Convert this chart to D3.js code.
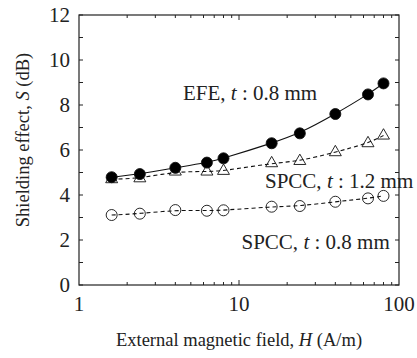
<!DOCTYPE html>
<html>
<head>
<meta charset="utf-8">
<script src="https://cdnjs.cloudflare.com/ajax/libs/d3/7.8.5/d3.min.js"></script>
<style>
  body { margin: 0; background: #fff; }
  text { font-family: "Liberation Serif", "Times New Roman", serif; fill: #222; }
</style>
</head>
<body>
<div id="chart"></div>
<script>

// Data
var fieldH = [1.6, 2.4, 4, 6.3, 8, 16, 24, 40, 64, 80];
var efe08 = [4.79, 4.93, 5.21, 5.44, 5.63, 6.30, 6.74, 7.60, 8.47, 8.96];
var spcc12 = [4.70, 4.74, 5.04, 5.04, 5.07, 5.41, 5.51, 5.90, 6.30, 6.64];
var spcc08 = [3.11, 3.17, 3.33, 3.30, 3.32, 3.48, 3.51, 3.70, 3.85, 3.96];
var yTicks = [0, 2, 4, 6, 8, 10, 12];
var xTicks = [1, 10, 100];

var margin = { top: 15, right: 18, bottom: 73, left: 79 };
var width = 417 - margin.left - margin.right;
var height = 358 - margin.top - margin.bottom;

var svg = d3.select("#chart").append("svg")
    .attr("width", width + margin.left + margin.right)
    .attr("height", height + margin.top + margin.bottom)
  .append("g")
    .attr("transform", "translate(" + margin.left + "," + margin.top + ")");

var x = d3.scaleLog().domain([1, 100]).range([0, width]);
var y = d3.scaleLinear().domain([0, 12]).range([height, 0]);

// minor log ticks (2..9, 20..90)
var minorX = [];
[1, 10].forEach(function(dec){
  for (var k = 2; k <= 9; k++) minorX.push(dec * k);
});
var minorY = d3.range(0, 13);

// frame
svg.append("rect")
  .attr("width", width)
  .attr("height", height)
  .style("fill", "none")
  .style("stroke", "#222")
  .style("stroke-width", 1.2);

// inward ticks on all sides
function tickMarks(vals, isX, len, onFar){
  svg.selectAll(null)
    .data(vals)
    .enter()
    .append("line")
    .attr("x1", function(d){ return isX ? x(d) : (onFar ? width : 0); })
    .attr("x2", function(d){ return isX ? x(d) : (onFar ? width - len : len); })
    .attr("y1", function(d){ return isX ? (onFar ? 0 : height) : y(d); })
    .attr("y2", function(d){ return isX ? (onFar ? len : height - len) : y(d); })
    .style("stroke", "#222")
    .style("stroke-width", 1);
}
tickMarks(minorX, true, 3, false);
tickMarks(minorX, true, 3, true);
tickMarks([10], true, 5, false);
tickMarks([10], true, 5, true);
tickMarks(minorY, false, 4, false);
tickMarks(minorY, false, 4, true);

// tick labels
svg.selectAll(".ylab")
  .data(yTicks)
  .enter()
  .append("text")
  .attr("class", "ylab")
  .attr("x", -9)
  .attr("y", function(d){ return y(d); })
  .attr("dy", "0.35em")
  .style("text-anchor", "end")
  .style("font-size", "21px")
  .text(function(d){ return d; });

svg.selectAll(".xlab")
  .data(xTicks)
  .enter()
  .append("text")
  .attr("class", "xlab")
  .attr("x", function(d){ return x(d); })
  .attr("y", height + 26)
  .style("text-anchor", "middle")
  .style("font-size", "21px")
  .text(function(d){ return d; });

// axis titles
var xTitle = svg.append("text")
  .attr("x", width / 2)
  .attr("y", height + 61)
  .style("text-anchor", "middle")
  .style("font-size", "18.5px");
xTitle.append("tspan").text("External magnetic field, ");
xTitle.append("tspan").style("font-style", "italic").text("H");
xTitle.append("tspan").text(" (A/m)");

var yTitle = svg.append("text")
  .attr("transform", "rotate(-90)")
  .attr("x", -(height / 2) + 10)
  .attr("y", -50)
  .style("text-anchor", "middle")
  .style("font-size", "18.5px");
yTitle.append("tspan").text("Shielding effect, ");
yTitle.append("tspan").style("font-style", "italic").text("S");
yTitle.append("tspan").text(" (dB)");

// series
var series = [
  { name: "SPCC, ", t: "1.2", values: spcc12, marker: "triangle", dash: "4,3", lx: 186, ly: 172.5 },
  { name: "SPCC, ", t: "0.8", values: spcc08, marker: "open", dash: "4,3", lx: 162.5, ly: 233.5 },
  { name: "EFE, ", t: "0.8", values: efe08, marker: "filled", dash: null, lx: 104, ly: 85 }
];

var line = d3.line()
  .x(function(d){ return x(d[0]); })
  .y(function(d){ return y(d[1]); })
  .curve(d3.curveBasis);

series.forEach(function(s){
  var pts = fieldH.map(function(h, i){ return [h, s.values[i]]; });

  svg.append("path")
    .datum(pts)
    .attr("d", line)
    .style("fill", "none")
    .style("stroke", "#111")
    .style("stroke-width", 1.1)
    .style("stroke-dasharray", s.dash);

  if (s.marker === "triangle") {
    svg.selectAll(null)
      .data(pts)
      .enter()
      .append("path")
      .attr("d", d3.symbol().type(d3.symbolTriangle).size(62))
      .attr("transform", function(d){ return "translate(" + x(d[0]) + "," + y(d[1]) + ")"; })
      .style("fill", "none")
      .style("stroke", "#111")
      .style("stroke-width", 0.9);
  } else {
    svg.selectAll(null)
      .data(pts)
      .enter()
      .append("circle")
      .attr("cx", function(d){ return x(d[0]); })
      .attr("cy", function(d){ return y(d[1]); })
      .attr("r", 5.5)
      .style("fill", s.marker === "filled" ? "#000" : "none")
      .style("stroke", "#111")
      .style("stroke-width", 0.9);
  }

  var lab = svg.append("text")
    .attr("x", s.lx)
    .attr("y", s.ly)
    .style("font-size", "21px");
  lab.append("tspan").text(s.name);
  lab.append("tspan").style("font-style", "italic").text("t");
  lab.append("tspan").text(" : " + s.t + " mm");
});

</script>
</body>
</html>
